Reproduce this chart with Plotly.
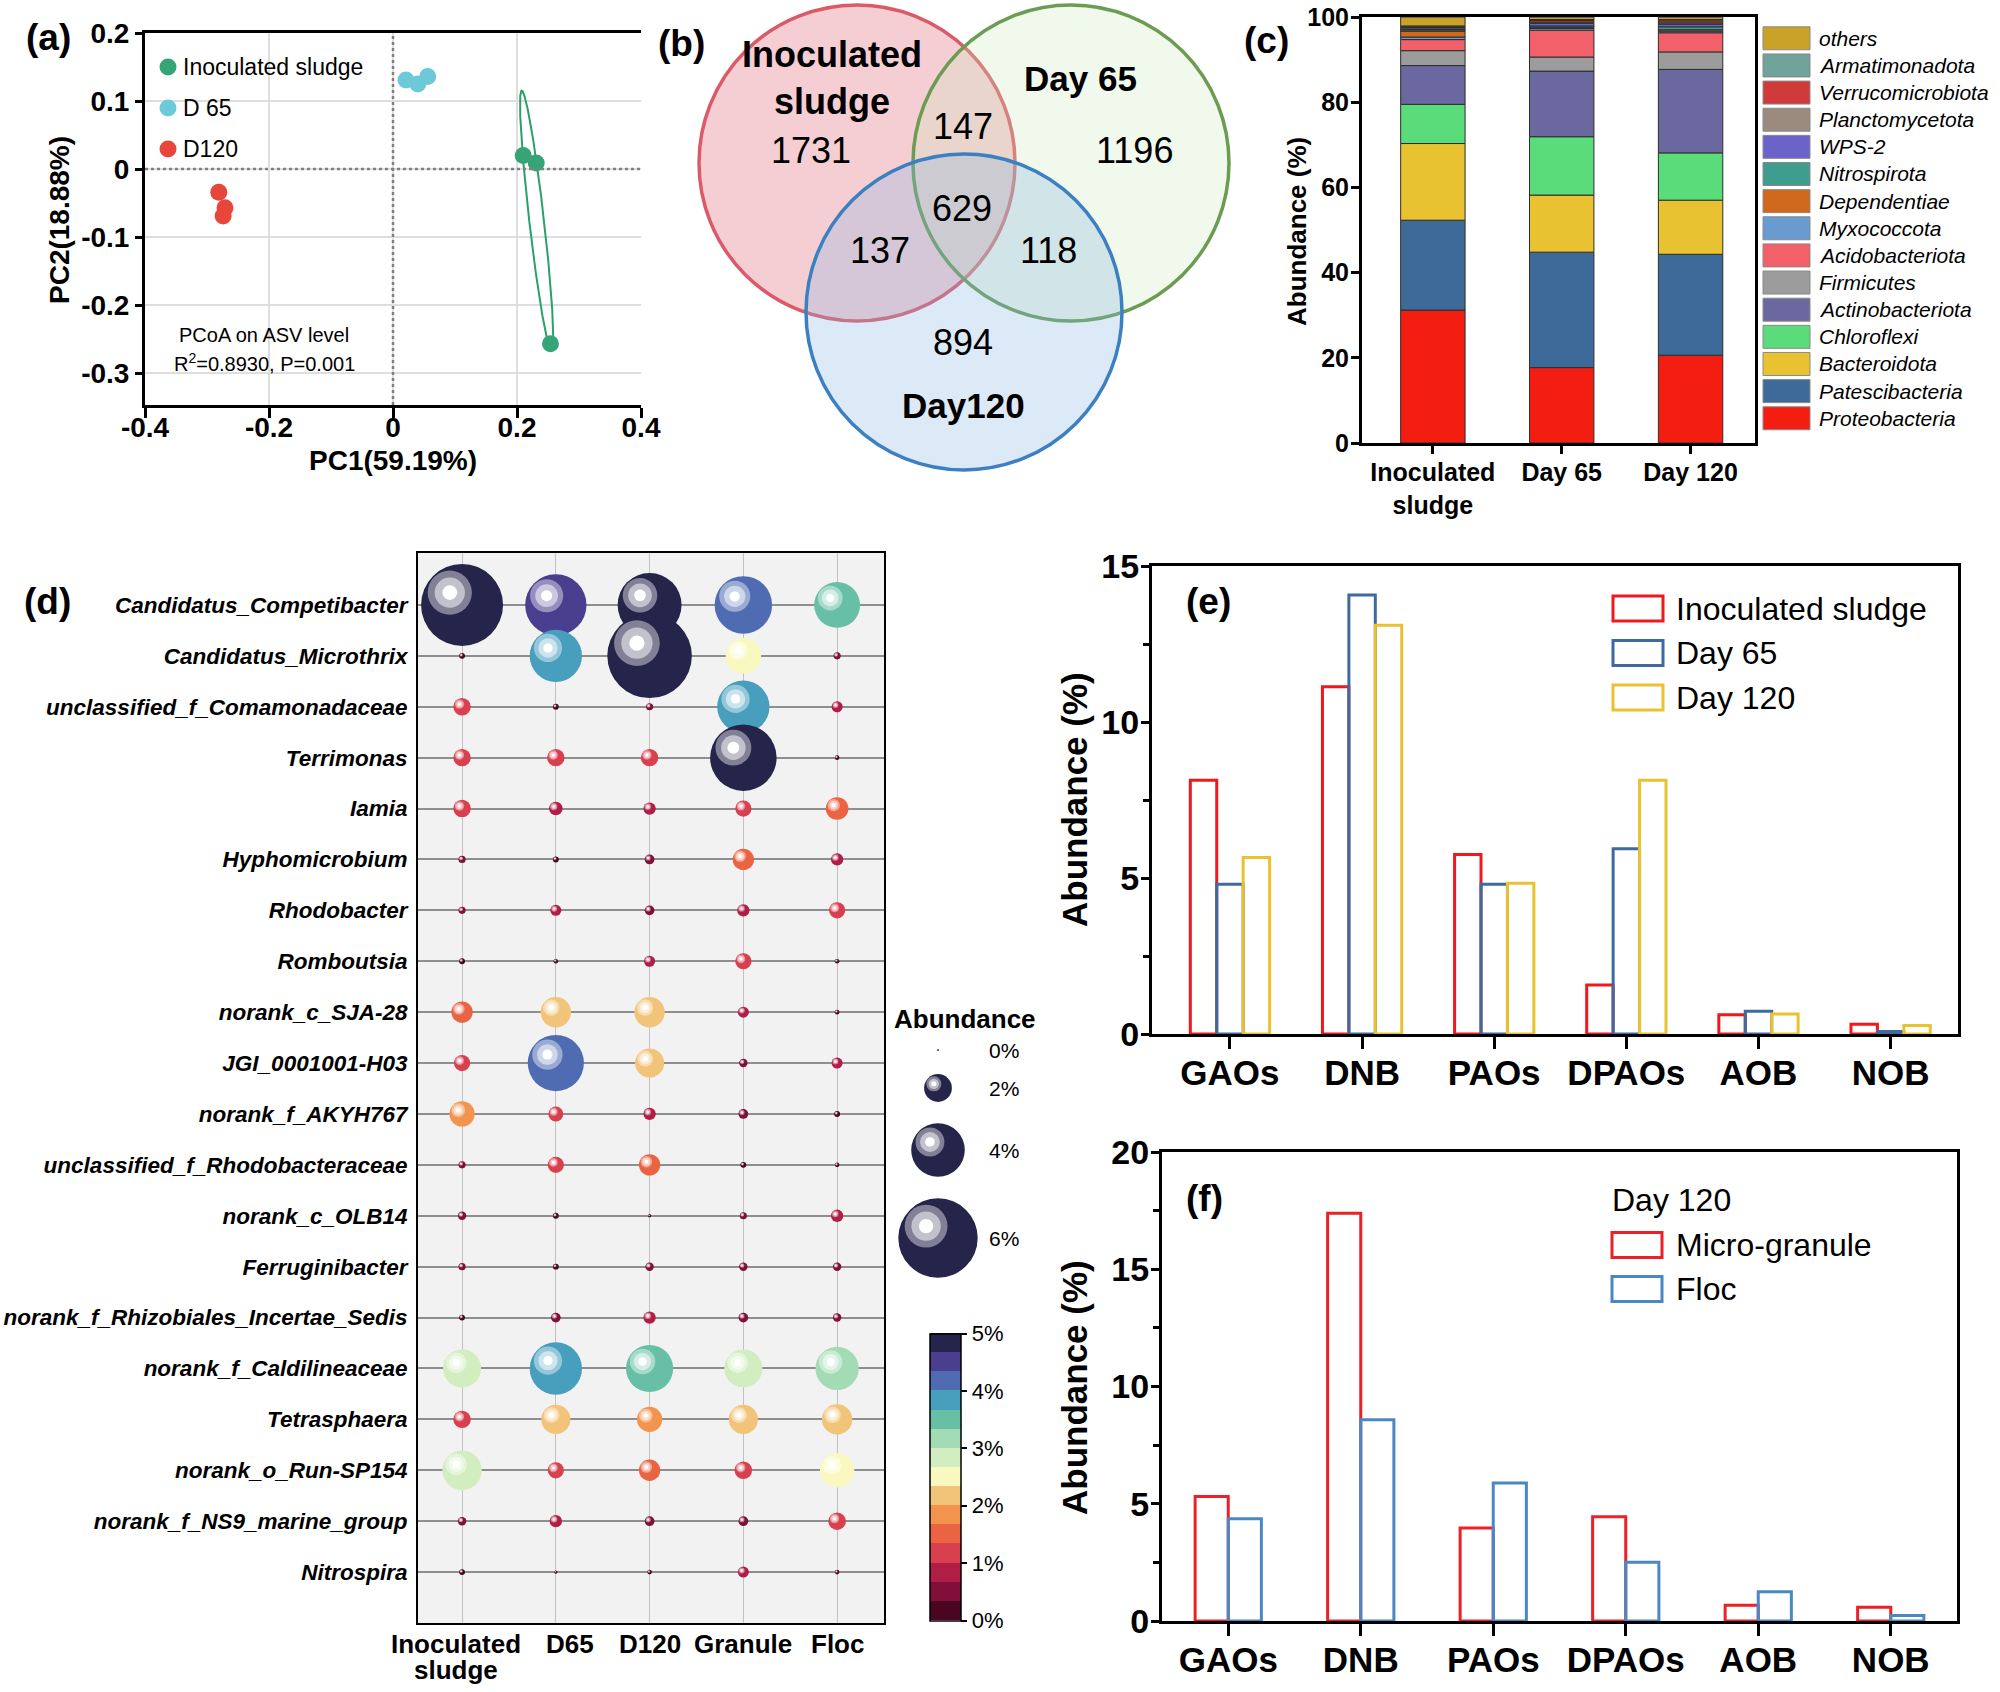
import numpy as np
import plotly.graph_objects as go

W, H = 2000, 1692
FONT = "Liberation Sans, Arial, Helvetica, sans-serif"

# ======================= DATA =======================
# (a) PCoA scores
PC1_INOC = [0.210, 0.231, 0.254]
PC2_INOC = [0.020, 0.009, -0.257]
PC1_D65 = [0.021, 0.040, 0.056]
PC2_D65 = [0.131, 0.125, 0.136]
PC1_D120 = [-0.281, -0.271, -0.274]
PC2_D120 = [-0.034, -0.057, -0.069]
PCOA_GROUPS = ["Inoculated sludge", "D 65", "D120"]
PC1_TICKS = [-0.4, -0.2, 0, 0.2, 0.4]
PC2_TICKS = [-0.3, -0.2, -0.1, 0, 0.1, 0.2]

# (b) Venn counts
VENN_SETS = ["Inoculated<br>sludge", "Day 65", "Day120"]
VENN_ONLY = [1731, 1196, 894]          # Inoc only, D65 only, D120 only
VENN_PAIR = [147, 137, 118]            # Inoc&D65, Inoc&D120, D65&D120
VENN_ALL = 629

# (c) phylum composition (bottom -> top)
PHYLA = ["Proteobacteria", "Patescibacteria", "Bacteroidota", "Chloroflexi",
         "Actinobacteriota", "Firmicutes", "Acidobacteriota", "Myxococcota",
         "Dependentiae", "Nitrospirota", "WPS-2", "Planctomycetota",
         "Verrucomicrobiota", "Armatimonadota", "others"]
COMP_SAMPLES = ["Inoculated<br>sludge", "Day 65", "Day 120"]
ABUND_INOC = [31.2, 21.1, 18.0, 9.2, 9.1, 3.5, 2.6, 0.6, 1.4, 0.3, 0.2, 0.3, 0.2, 0.2, 2.1]
ABUND_D65 = [17.7, 27.1, 13.4, 13.7, 15.4, 3.3, 6.3, 0.4, 0.3, 0.3, 0.6, 0.3, 0.4, 0.2, 0.6]
ABUND_D120 = [20.6, 23.7, 12.7, 11.1, 19.6, 4.1, 4.5, 0.4, 0.3, 0.7, 0.6, 0.3, 0.5, 0.3, 0.6]
COMP_TICKS = [0, 20, 40, 60, 80, 100]

# (d) genus bubble chart
GENERA = ["Candidatus_Competibacter", "Candidatus_Microthrix", "unclassified_f_Comamonadaceae",
          "Terrimonas", "Iamia", "Hyphomicrobium", "Rhodobacter", "Romboutsia",
          "norank_c_SJA-28", "JGI_0001001-H03", "norank_f_AKYH767",
          "unclassified_f_Rhodobacteraceae", "norank_c_OLB14", "Ferruginibacter",
          "norank_f_Rhizobiales_Incertae_Sedis", "norank_f_Caldilineaceae",
          "Tetrasphaera", "norank_o_Run-SP154", "norank_f_NS9_marine_group", "Nitrospira"]
BUBBLE_SAMPLES = ["Inoculated<br>sludge", "D65", "D120", "Granule", "Floc"]
G_INOC = [6.2, 0.3, 1.2, 1.2, 1.2, 0.4, 0.4, 0.3, 1.5, 1.1, 1.8, 0.4, 0.5, 0.4, 0.3, 2.8, 1.2, 2.9, 0.5, 0.3]
G_D65 = [4.6, 3.9, 0.3, 1.2, 0.9, 0.3, 0.7, 0.2, 2.2, 4.2, 1.0, 1.1, 0.3, 0.3, 0.6, 3.9, 2.1, 1.1, 0.8, 0.1]
G_D120 = [4.8, 6.4, 0.4, 1.2, 0.8, 0.6, 0.6, 0.7, 2.2, 2.1, 0.8, 1.5, 0.1, 0.5, 0.8, 3.5, 1.8, 1.5, 0.6, 0.2]
G_GRAN = [4.3, 2.6, 3.9, 5.0, 1.1, 1.5, 0.8, 1.1, 0.7, 0.5, 0.6, 0.3, 0.4, 0.5, 0.6, 2.8, 2.1, 1.2, 0.6, 0.7]
G_FLOC = [3.4, 0.4, 0.7, 0.2, 1.6, 0.8, 1.1, 0.2, 0.2, 0.7, 0.3, 0.2, 0.8, 0.5, 0.5, 3.2, 2.2, 2.5, 1.2, 0.2]
SIZE_LEGEND_VALUES = [0, 2, 4, 6]
CB_TICKS = [0, 1, 2, 3, 4, 5]

# (e) functional groups over time
FG_CATS = ["GAOs", "DNB", "PAOs", "DPAOs", "AOB", "NOB"]
E_NAMES = ["Inoculated sludge", "Day 65", "Day 120"]
E_INOC = [8.13, 11.13, 5.75, 1.57, 0.62, 0.31]
E_D65 = [4.80, 14.07, 4.80, 5.94, 0.73, 0.08]
E_D120 = [5.66, 13.10, 4.83, 8.13, 0.64, 0.27]
E_TICKS = [0, 5, 10, 15]

# (f) Day 120 micro-granule vs floc
F_NAMES = ["Micro-granule", "Floc"]
F_GRAN = [5.31, 17.39, 3.97, 4.45, 0.67, 0.59]
F_FLOC = [4.36, 8.58, 5.88, 2.51, 1.25, 0.23]
F_TICKS = [0, 5, 10, 15, 20]

# ======================= STYLE =======================
PCOA_COLORS = ["#35a477", "#6ccad8", "#e8463a"]
PHYLA_COLORS = ["#f41d12", "#3e6a9a", "#e9c232", "#5bdc7a", "#6a689e", "#9c9c9c",
                "#f2606a", "#6a9bd0", "#d0691e", "#3f9d8f", "#6c63c8", "#9b8b7e",
                "#d03a3a", "#6fa39b", "#c9a227"]
CB_COLORS = ["#4a0520", "#800f3a", "#b01e48", "#d8404f", "#ea6444", "#f2944e",
             "#f1c47a", "#f9f9bf", "#d2eec0", "#a2dbb4", "#67c0a5", "#479ebd",
             "#4f6cb3", "#4a3e8e", "#25244a"]
E_COLORS = ["#f0181c", "#3e6a9e", "#e9c230"]
F_COLORS = ["#ec2027", "#4a88c4"]
NAVY = "#25244a"
BUBBLE_LABEL_SHIFT = [-6, 14, 0, 0, 0]   # px nudges of the (d) column labels


def px(x):
    return x / W


def py(y):
    return 1 - y / H


def dom_x(l, r):
    return [l / W, r / W]


def dom_y(t, b):
    return [1 - b / H, 1 - t / H]


def mix(hexc, t):
    r, g, b = int(hexc[1:3], 16), int(hexc[3:5], 16), int(hexc[5:7], 16)
    return "#%02x%02x%02x" % (round(r + (255 - r) * t), round(g + (255 - g) * t), round(b + (255 - b) * t))


def band_color(v):
    i = min(int(v / (5 / len(CB_COLORS))), len(CB_COLORS) - 1)
    return CB_COLORS[i]


def size_of(v):
    return 2 + 12.9 * v


# panel boxes in pixels (left, top, right, bottom)
A_BOX = (145, 33, 641, 405)
C_BOX = (1362, 17, 1755, 443)
D_BOX = (418, 553, 884, 1623)
E_BOX = (1152, 566, 1958, 1034)
F_BOX = (1162, 1152, 1957, 1621)
SL_BOX = (890, 1000, 1040, 1290)

A_XR = [-0.4, 0.4]
A_YR = [-0.347, 0.2]
C_XR = [-0.55, 2.5]
D_XR = [-0.47, 4.5]
D_YR = [20.0, -1.02]
E_XR = [-0.59, 5.51]
F_XR = [-0.5, 5.5]

fig = go.Figure()
annotations = []
shapes = []


def ann(x, y, text, size, **kw):
    d = dict(x=px(x), y=py(y), xref="paper", yref="paper", text=text, showarrow=False,
             font=dict(size=size, family=FONT, color="black"), xanchor="center", yanchor="middle")
    d.update(kw)
    annotations.append(d)


# ======================= (a) PCoA =======================
pts = np.array([PC1_INOC, PC2_INOC])
mu = pts.mean(axis=1)
vals, vecs = np.linalg.eigh(np.cov(pts))
ELLIPSE_K = 1.22
t = np.linspace(0, 2 * np.pi, 300)
circ = np.stack([np.cos(t), np.sin(t)])
ell = mu[:, None] + vecs @ (np.sqrt(vals)[:, None] * ELLIPSE_K * circ)
fig.add_trace(go.Scatter(x=ell[0], y=ell[1], mode="lines", line=dict(color="#2aa06c", width=2),
                         xaxis="x", yaxis="y", hoverinfo="skip"))
for name, xs, ys, col in zip(PCOA_GROUPS, [PC1_INOC, PC1_D65, PC1_D120],
                             [PC2_INOC, PC2_D65, PC2_D120], PCOA_COLORS):
    fig.add_trace(go.Scatter(x=xs, y=ys, mode="markers", name=name,
                             marker=dict(size=17, color=col, opacity=1, line=dict(width=0)),
                             xaxis="x", yaxis="y"))
# zero reference lines
shapes.append(dict(type="line", xref="x", yref="y domain", x0=0, x1=0, y0=0, y1=1,
                   line=dict(color="#808080", width=2.5, dash="dot")))
shapes.append(dict(type="line", xref="x domain", yref="y", x0=0, x1=1, y0=0, y1=0,
                   line=dict(color="#808080", width=2.5, dash="dot")))
# legend (a)
for i, (name, col) in enumerate(zip(PCOA_GROUPS, PCOA_COLORS)):
    cy = 67 + 41 * i
    r = 8.5
    shapes.append(dict(type="circle", xref="paper", yref="paper", x0=px(168 - r), x1=px(168 + r),
                       y0=py(cy + r), y1=py(cy - r), fillcolor=col, line=dict(width=0)))
    ann(181, cy, name, 23, xanchor="left")
ann(264, 335, "PCoA on ASV level", 20)
ann(264, 362, "R<sup>2</sup>=0.8930, P=0.001", 20)
ann(393, 461, "<b>PC1(59.19%)</b>", 28)
ann(60, 220, "<b>PC2(18.88%)</b>", 28, textangle=-90)
ann(48, 38, "<b>(a)</b>", 37)

# ======================= (b) Venn =======================
VENN_GEOM = [(857, 163, 158, "rgba(228,120,132,0.36)", "#db5a68"),
             (1071, 163, 158, "rgba(200,232,188,0.28)", "#6b9c52"),
             (964, 312, 158, "rgba(140,182,226,0.30)", "#3d80c2")]
for cx, cy, r, fc, lc in VENN_GEOM:
    shapes.append(dict(type="circle", xref="paper", yref="paper", x0=px(cx - r), x1=px(cx + r),
                       y0=py(cy + r), y1=py(cy - r), fillcolor=fc, line=dict(color=lc, width=3.5)))
ann(832, 78, "<b>" + VENN_SETS[0] + "</b>", 36)
ann(1080, 78, "<b>" + VENN_SETS[1] + "</b>", 35)
ann(963, 405, "<b>" + VENN_SETS[2] + "</b>", 35)
for (x, y), v in zip([(811, 151), (1134, 151), (963, 343)], VENN_ONLY):
    ann(x, y, str(v), 36)
for (x, y), v in zip([(963, 126), (880, 250), (1048, 250)], VENN_PAIR):
    ann(x, y, str(v), 36)
ann(962, 209, str(VENN_ALL), 36)
ann(681, 43, "<b>(b)</b>", 37)

# ======================= (c) stacked bars =======================
comp = [ABUND_INOC, ABUND_D65, ABUND_D120]
base = [0.0] * len(comp)
for i, (name, col) in enumerate(zip(PHYLA, PHYLA_COLORS)):
    ys = [s[i] for s in comp]
    fig.add_trace(go.Bar(x=list(range(len(comp))), y=ys, base=list(base), width=0.5, name=name,
                         marker=dict(color=col, line=dict(color="#2d2d2d", width=1)),
                         xaxis="x3", yaxis="y3"))
    base = [b + y for b, y in zip(base, ys)]
# legend (c)
for j, (name, col) in enumerate(zip(PHYLA[::-1], PHYLA_COLORS[::-1])):
    cy = 38.3 + 27.14 * j
    shapes.append(dict(type="rect", xref="paper", yref="paper", x0=px(1763), x1=px(1810),
                       y0=py(cy + 11.5), y1=py(cy - 11.5), fillcolor=col,
                       line=dict(color="#8a8a8a", width=1)))
    ann(1817, cy, "<i>" + name + "</i>", 21, xanchor="left")
ann(1297, 232, "<b>Abundance (%)</b>", 26, textangle=-90)
ann(1266, 40, "<b>(c)</b>", 37)

# ======================= (d) bubble chart =======================
cols_d = [G_INOC, G_D65, G_D120, G_GRAN, G_FLOC]
bx, byy, bv = [], [], []
for r in range(len(GENERA)):
    for c in range(len(cols_d)):
        bx.append(c)
        byy.append(r)
        bv.append(cols_d[c][r])
bsize = [size_of(v) for v in bv]
cs = []
n = len(CB_COLORS)
for i, c in enumerate(CB_COLORS):
    cs.append([i / n, c])
    cs.append([(i + 1) / n, c])
fig.add_trace(go.Scatter(
    x=bx, y=byy, mode="markers", xaxis="x4", yaxis="y4",
    marker=dict(size=bsize, sizemode="diameter", color=bv, colorscale=cs, cmin=0, cmax=5,
                line=dict(width=0), opacity=1,
                colorbar=dict(x=px(930), xanchor="left", y=py(1477), yanchor="middle",
                              len=287, lenmode="pixels", thickness=31, thicknessmode="pixels",
                              xpad=0, ypad=0, outlinewidth=1.5, outlinecolor="black",
                              tickvals=CB_TICKS, ticktext=[f"{v}%" for v in CB_TICKS],
                              ticks="outside", ticklen=6, tickwidth=1.5, tickcolor="black",
                              tickfont=dict(size=22, family=FONT, color="black")),
                showscale=True)))
# glossy highlights (derived from bubble positions/sizes)
ppx = (D_BOX[2] - D_BOX[0]) / (D_XR[1] - D_XR[0])
ppy = (D_BOX[3] - D_BOX[1]) / (D_YR[0] - D_YR[1])
HL_OFF = 0.15
HL_LAYERS = [(0.54, 0.42), (0.37, 0.72), (0.18, 1.0)]
for sc, tm in HL_LAYERS:
    fig.add_trace(go.Scatter(
        x=[x - HL_OFF * d / ppx for x, d in zip(bx, bsize)],
        y=[y - HL_OFF * d / ppy for y, d in zip(byy, bsize)],
        mode="markers", xaxis="x4", yaxis="y4", hoverinfo="skip",
        marker=dict(size=[sc * d for d in bsize], color=[mix(band_color(v), tm) for v in bv],
                    opacity=1, line=dict(width=0))))
shapes.append(dict(type="rect", xref="x4 domain", yref="y4 domain", x0=0, x1=1, y0=0, y1=1,
                   fillcolor="#f2f2f2", line=dict(width=0), layer="below"))
# column labels of (d), one line each
LBL_Y0, LBL_DY = 1644, 26
for c, (lab, sh) in enumerate(zip(BUBBLE_SAMPLES, BUBBLE_LABEL_SHIFT)):
    for k, part in enumerate(lab.split("<br>")):
        annotations.append(dict(x=c, xref="x4", y=py(LBL_Y0 + LBL_DY * k), yref="paper",
                                text="<b>" + part + "</b>", showarrow=False, xanchor="center",
                                yanchor="middle", xshift=sh,
                                font=dict(size=26, family=FONT, color="black")))
# size legend
SL_X = 938
SL_Y = [1050, 1088, 1150, 1238]
sl_sizes = [size_of(v) for v in SIZE_LEGEND_VALUES]
fig.add_trace(go.Scatter(x=[SL_X] * len(SL_Y), y=SL_Y, mode="markers", xaxis="x7", yaxis="y7",
                         marker=dict(size=sl_sizes, color=NAVY, opacity=1, line=dict(width=0))))
for sc, tm in HL_LAYERS:
    fig.add_trace(go.Scatter(x=[SL_X - HL_OFF * d for d in sl_sizes],
                             y=[y - HL_OFF * d for y, d in zip(SL_Y, sl_sizes)],
                             mode="markers", xaxis="x7", yaxis="y7", hoverinfo="skip",
                             marker=dict(size=[sc * d for d in sl_sizes], color=mix(NAVY, tm),
                                         opacity=1, line=dict(width=0))))
for y, v in zip(SL_Y, SIZE_LEGEND_VALUES):
    ann(987, y, f"{v}%", 21, xanchor="left")
ann(965, 1019, "<b>Abundance</b>", 26)
ann(47, 601, "<b>(d)</b>", 37)

# ======================= (e) grouped outline bars =======================
for i, (name, ys, col) in enumerate(zip(E_NAMES, [E_INOC, E_D65, E_D120], E_COLORS)):
    fig.add_trace(go.Bar(x=list(range(len(FG_CATS))), y=ys, width=0.2, offset=-0.3 + 0.2 * i,
                         name=name, marker=dict(color="rgba(255,255,255,0)", line=dict(color=col, width=3)),
                         xaxis="x5", yaxis="y5"))
for j, (name, col) in enumerate(zip(E_NAMES, E_COLORS)):
    cy = 608.6 + 44.5 * j
    shapes.append(dict(type="rect", xref="paper", yref="paper", x0=px(1613), x1=px(1663),
                       y0=py(cy + 12.5), y1=py(cy - 12.5), fillcolor="white",
                       line=dict(color=col, width=3)))
    ann(1674, cy, name, 32, xanchor="left")
ann(1074, 800, "<b>Abundance (%)</b>", 35, textangle=-90)
ann(1208, 601, "<b>(e)</b>", 37)

# ======================= (f) grouped outline bars =======================
for i, (name, ys, col) in enumerate(zip(F_NAMES, [F_GRAN, F_FLOC], F_COLORS)):
    fig.add_trace(go.Bar(x=list(range(len(FG_CATS))), y=ys, width=0.25, offset=-0.25 + 0.25 * i,
                         name=name, marker=dict(color="rgba(255,255,255,0)", line=dict(color=col, width=3)),
                         xaxis="x6", yaxis="y6"))
ann(1610, 1200, "Day 120", 32, xanchor="left")
for j, (name, col) in enumerate(zip(F_NAMES, F_COLORS)):
    cy = 1245 + 44 * j
    shapes.append(dict(type="rect", xref="paper", yref="paper", x0=px(1612), x1=px(1662),
                       y0=py(cy + 12.5), y1=py(cy - 12.5), fillcolor="white",
                       line=dict(color=col, width=3)))
    ann(1674, cy, name, 32, xanchor="left")
ann(1074, 1388, "<b>Abundance (%)</b>", 35, textangle=-90)
ann(1204, 1198, "<b>(f)</b>", 37)

# ======================= axes =======================
def boxed_axis(domain, rng, tickvals, ticktext, size, mirror=True, ticklen=8, **kw):
    d = dict(domain=domain, range=rng, tickvals=tickvals, ticktext=ticktext, tickangle=0,
             showline=True, linecolor="black", linewidth=3, mirror=mirror,
             ticks="outside", ticklen=ticklen, tickwidth=3, tickcolor="black",
             tickfont=dict(size=size, family=FONT, color="black", weight="bold"),
             showgrid=False, zeroline=False, fixedrange=True, automargin=False)
    d.update(kw)
    return d


layout = dict(
    template="none",
    width=W, height=H, margin=dict(l=0, r=0, t=0, b=0, autoexpand=False), autosize=False,
    paper_bgcolor="white", plot_bgcolor="white", showlegend=False, barmode="overlay",
    font=dict(family=FONT, color="black"),
    xaxis=boxed_axis(dom_x(A_BOX[0], A_BOX[2]), A_XR, PC1_TICKS, [f"{v:g}" for v in PC1_TICKS], 28,
                     anchor="y", ticklen=10, ticklabelstandoff=-15,
                     showgrid=True, gridcolor="#dedede", gridwidth=1.5),
    yaxis=boxed_axis(dom_y(A_BOX[1], A_BOX[3]), A_YR, PC2_TICKS, [f"{v:g}" for v in PC2_TICKS], 28,
                     mirror=False, anchor="x", ticklen=7, showgrid=True, gridcolor="#dedede", gridwidth=1.5),
    xaxis3=boxed_axis(dom_x(C_BOX[0], C_BOX[2]), C_XR, [0, 1, 2], COMP_SAMPLES, 25, anchor="y3",
                      ticklabelstandoff=-3),
    yaxis3=boxed_axis(dom_y(C_BOX[1], C_BOX[3]), [0, 100], COMP_TICKS, [str(v) for v in COMP_TICKS], 25,
                      anchor="x3", ticklabelstandoff=-3),
    xaxis4=dict(domain=dom_x(D_BOX[0], D_BOX[2]), range=D_XR, anchor="y4",
                tickvals=list(range(len(BUBBLE_SAMPLES))), showticklabels=False,
                showgrid=True, gridcolor="#c2c2c2", gridwidth=1.2, zeroline=False, automargin=False,
                showline=True, linecolor="black", linewidth=2, mirror=True, ticks="", fixedrange=True),
    yaxis4=dict(domain=dom_y(D_BOX[1], D_BOX[3]), range=D_YR, anchor="x4",
                tickvals=list(range(len(GENERA))), ticktext=["<i>" + g + "</i>" for g in GENERA],
                tickfont=dict(size=22.5, family=FONT, color="black", weight="bold"),
                showgrid=True, gridcolor="#8e8e8e", gridwidth=2, zeroline=False, automargin=False,
                showline=True, linecolor="black", linewidth=2, mirror=True, ticks="",
                ticklabelstandoff=4, fixedrange=True),
    xaxis5=boxed_axis(dom_x(E_BOX[0], E_BOX[2]), E_XR, list(range(len(FG_CATS))), FG_CATS, 35,
                      anchor="y5", ticklen=12, ticklabelstandoff=-6),
    yaxis5=boxed_axis(dom_y(E_BOX[1], E_BOX[3]), [0, 15], E_TICKS, [str(v) for v in E_TICKS], 34,
                      anchor="x5", ticklabelstandoff=-5,
                      minor=dict(ticks="outside", ticklen=6, tickwidth=3, tickcolor="black",
                                 dtick=2.5, tick0=0)),
    xaxis6=boxed_axis(dom_x(F_BOX[0], F_BOX[2]), F_XR, list(range(len(FG_CATS))), FG_CATS, 35,
                      anchor="y6", ticklen=12, ticklabelstandoff=-6),
    yaxis6=boxed_axis(dom_y(F_BOX[1], F_BOX[3]), [0, 20], F_TICKS, [str(v) for v in F_TICKS], 34,
                      anchor="x6", ticklabelstandoff=-5,
                      minor=dict(ticks="outside", ticklen=6, tickwidth=3, tickcolor="black",
                                 dtick=2.5, tick0=0)),
    xaxis7=dict(domain=dom_x(SL_BOX[0], SL_BOX[2]), range=[SL_BOX[0], SL_BOX[2]], anchor="y7",
                visible=False, fixedrange=True, automargin=False),
    yaxis7=dict(domain=dom_y(SL_BOX[1], SL_BOX[3]), range=[SL_BOX[3], SL_BOX[1]], anchor="x7",
                visible=False, fixedrange=True, automargin=False),
    annotations=annotations, shapes=shapes,
)
fig.update_layout(**layout)

fig.write_html("out.html", config={"displayModeBar": False},
               post_script="document.body.style.margin='0px';")
